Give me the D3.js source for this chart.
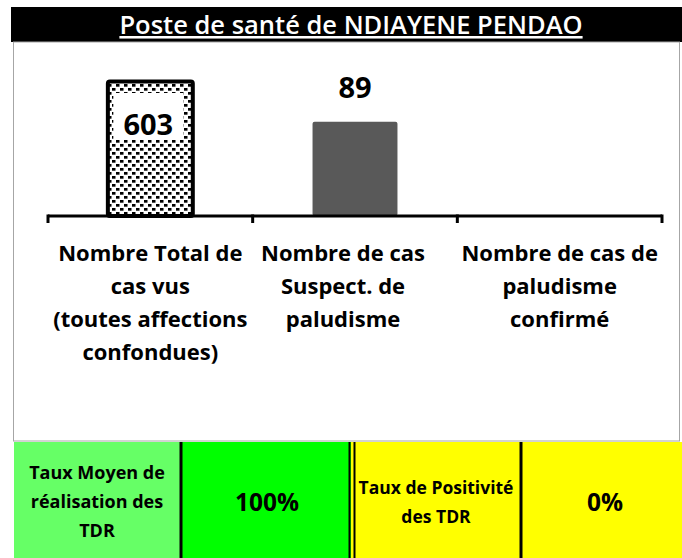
<!DOCTYPE html>
<html><head><meta charset="utf-8">
<script src="https://cdn.jsdelivr.net/npm/d3@7"></script>
<style>body{margin:0;background:#fff}svg{display:block}</style>
</head><body>
<script>
const title = "Poste de santé de NDIAYENE PENDAO";
const categories = ["total", "suspect", "confirme"];
const categoryLines = [
  ["Nombre Total de", "cas vus", "(toutes affections", "confondues)"],
  ["Nombre de cas", "Suspect. de", "paludisme"],
  ["Nombre de cas de", "paludisme", "confirmé"]
];
const values = [603, 89, 0];
const valueLabels = ["603", "89", ""];
const tableLines = [["Taux Moyen de", "réalisation des", "TDR"], ["100%"], ["Taux de Positivité", "des TDR"], ["0%"]];
const tableColors = ["#66FF66", "#00FF00", "#FFFF00", "#FFFF00"];

const W = 682, H = 558;
const font = "'Open Sans', sans-serif";
const svg = d3.select("body").append("svg").attr("width", W).attr("height", H);

// pattern
const defs = svg.append("defs");
const pat = defs.append("pattern").attr("id", "dots").attr("patternUnits", "userSpaceOnUse")
  .attr("width", 8).attr("height", 8);
pat.append("rect").attr("width", 8).attr("height", 8).attr("fill", "#fff");
pat.append("rect").attr("x", 0).attr("y", 0).attr("width", 3.5).attr("height", 2.7).attr("fill", "#000");
pat.append("rect").attr("x", 4).attr("y", 4).attr("width", 3.5).attr("height", 2.7).attr("fill", "#000");

// title bar
svg.append("rect").attr("x", 11).attr("y", 7).attr("width", W - 11).attr("height", 35).attr("fill", "#000");
svg.append("text").attr("x", 351).attr("y", 34).attr("text-anchor", "middle")
  .attr("fill", "#fff").attr("font-family", font).attr("font-weight", 600).attr("font-size", 25.5)
  .attr("text-decoration", "underline").text(title);

// chart area border
svg.append("rect").attr("x", 13.5).attr("y", 42).attr("width", 666).attr("height", 399)
  .attr("fill", "#fff").attr("stroke", "#a6a6a6").attr("stroke-width", 1);

const x = d3.scaleBand().domain(categories).range([48, 662]).paddingInner(0).paddingOuter(0);
const y = d3.scaleLog().domain([1, 1000]).range([216, 71]);
const bw = x.bandwidth() * 0.415;

const data = categories.map((c, i) => ({c, v: values[i], label: valueLabels[i], lines: categoryLines[i]}));

// bars
const bars = data.filter(d => d.v > 0);
svg.selectAll("rect.bar").data(bars).join("rect").attr("class", "bar")
  .attr("x", d => x(d.c) + (x.bandwidth() - bw) / 2)
  .attr("y", d => y(d.v))
  .attr("width", bw)
  .attr("height", d => y(1) - y(d.v))
  .attr("fill", (d, i) => i === 0 ? "url(#dots)" : "#595959")
  .attr("stroke", (d, i) => i === 0 ? "#000" : "none")
  .attr("stroke-width", 4).attr("rx", 2);

// labels
const first = data[0];
svg.append("rect").attr("x", x(first.c) + x.bandwidth() / 2 - 37).attr("y", 93)
  .attr("width", 70).attr("height", 47).attr("fill", "#fff");
svg.append("text").attr("x", x(first.c) + x.bandwidth() / 2 - 2).attr("y", 135)
  .attr("text-anchor", "middle").attr("font-family", font).attr("font-weight", "bold")
  .attr("font-size", 29).attr("fill", "#000").text(first.label);
const second = data[1];
svg.append("text").attr("x", x(second.c) + x.bandwidth() / 2).attr("y", y(second.v) - 24)
  .attr("text-anchor", "middle").attr("font-family", font).attr("font-weight", "bold")
  .attr("font-size", 29).attr("fill", "#000").text(second.label);

// axis
const axisY = y(1);
const g = svg.append("g");
g.append("line").attr("x1", 48).attr("x2", 662).attr("y1", axisY).attr("y2", axisY)
  .attr("stroke", "#000").attr("stroke-width", 3);
const ticks = categories.map(c => x(c)).concat([x.range()[1]]);
g.selectAll("line.tick").data(ticks).join("line").attr("class", "tick")
  .attr("x1", d => d).attr("x2", d => d).attr("y1", axisY - 1.5).attr("y2", axisY + 7)
  .attr("stroke", "#000").attr("stroke-width", 3);

// category labels
const catG = svg.selectAll("g.cat").data(data).join("g").attr("class", "cat");
catG.each(function(d, i) {
  const t = d3.select(this).append("text").attr("text-anchor", "middle")
    .attr("font-family", font).attr("font-weight", "bold").attr("font-size", 22).attr("fill", "#000");
  const cx = x(d.c) + x.bandwidth() / 2 + (i === 1 ? -12 : 0);
  d.lines.forEach((ln, j) => t.append("tspan").attr("x", cx).attr("y", 261 + j * 33).text(ln));
});

// table
const cellX = [14, 181, 351, 521, 682];
const tTop = 442, tBot = 558;
tableLines.forEach((lines, i) => {
  svg.append("rect").attr("x", cellX[i]).attr("y", tTop).attr("width", cellX[i + 1] - cellX[i])
    .attr("height", tBot - tTop).attr("fill", tableColors[i]);
});
[[181, 3], [349.5, 2], [354.5, 2], [521, 3]].forEach(([lx, sw]) => {
  svg.append("line").attr("x1", lx).attr("x2", lx).attr("y1", tTop).attr("y2", tBot)
    .attr("stroke", "#000").attr("stroke-width", sw);
});
const cellCenters = [97, 267, 436, 605];
const cellFont = [18, 24.5, 17.5, 24.5];
tableLines.forEach((lines, i) => {
  const t = svg.append("text").attr("text-anchor", "middle").attr("font-family", font)
    .attr("font-weight", "bold").attr("font-size", cellFont[i]).attr("fill", "#000");
  const lh = 29;
  const cy = 502 - (lines.length - 1) * lh / 2;
  lines.forEach((ln, j) => t.append("tspan").attr("x", cellCenters[i]).attr("y", cy + j * lh)
    .attr("dy", "0.35em").text(ln));
});
</script>
</body></html>
